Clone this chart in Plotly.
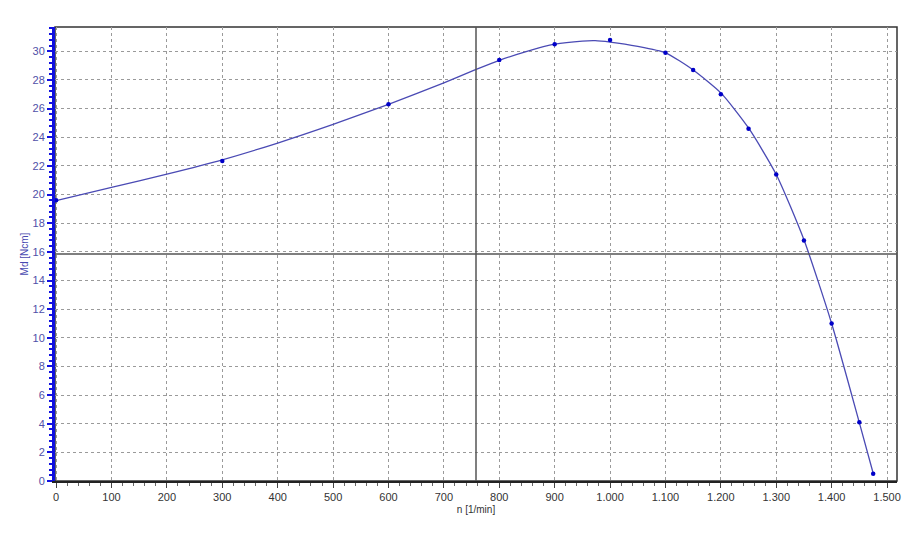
import plotly.graph_objects as go

# measured points
meas_n = [0, 300, 600, 800, 900, 1000, 1100, 1150, 1200, 1250, 1300, 1350, 1400, 1450, 1475]
meas_md = [19.6, 22.35, 26.3, 29.4, 30.5, 30.8, 29.9, 28.7, 27.0, 24.6, 21.4, 16.8, 11.0, 4.1, 0.5]

# fitted curve
curve_n = [0, 100, 200, 300, 400, 500, 600, 700, 756, 800, 850, 900, 950, 973, 1000,
           1050, 1100, 1150, 1200, 1250, 1300, 1350, 1400, 1450, 1475]
curve_md = [19.57, 20.5, 21.43, 22.43, 23.6, 24.9, 26.3, 27.8, 28.7, 29.37, 30.0, 30.5, 30.72,
            30.75, 30.65, 30.35, 29.9, 28.7, 27.1, 24.65, 21.4, 16.84, 11.0, 4.08, 0.54]

# cursor position
cursor_n = 758
cursor_md = 15.85

x_title = "n [1/min]"
y_title = "Md [Ncm]"

fig = go.Figure()
fig.add_trace(go.Scatter(x=curve_n, y=curve_md, mode="lines",
                         line=dict(color="#4a4ab4", width=1.3, shape="spline", smoothing=0.6),
                         hoverinfo="skip", showlegend=False))
fig.add_trace(go.Scatter(x=meas_n, y=meas_md, mode="markers",
                         marker=dict(color="#0000c8", size=4.5, symbol="circle"),
                         showlegend=False))

# frame (top/right)
fig.add_shape(type="rect", xref="paper", yref="paper", x0=0, y0=0, x1=1, y1=1,
              line=dict(color="#333333", width=1.5), layer="below")
# cursor lines
fig.add_shape(type="line", xref="x", yref="paper", x0=cursor_n, x1=cursor_n, y0=0, y1=1,
              line=dict(color="#555555", width=1.5))
fig.add_shape(type="line", xref="paper", yref="y", x0=0, x1=1, y0=cursor_md, y1=cursor_md,
              line=dict(color="#555555", width=1.5))

# page body has an 8px default margin, so the figure is sized to fit
fig.update_layout(
    width=906, height=526,
    margin=dict(l=47, r=17, t=19, b=53, autoexpand=False),
    paper_bgcolor="white", plot_bgcolor="white",
    separators=",.",
    font=dict(family="Liberation Sans, Arial, sans-serif", size=11, color="#333333"),
    xaxis=dict(
        range=[-2, 1518], tick0=0, dtick=100, tickformat=",d", automargin=False,
        showgrid=True, gridcolor="#9a9a9a", griddash="3px,3px", gridwidth=1,
        zeroline=False,
        showline=True, linecolor="#222222", linewidth=2,
        ticks="outside", ticklen=5, tickcolor="#444444", tickwidth=1,
        minor=dict(dtick=20, ticks="outside", ticklen=3, tickcolor="#666666", showgrid=False),
        tickfont=dict(size=11, color="#333333"),
        title=dict(text=x_title, font=dict(size=10, color="#333333"), standoff=4),
    ),
    yaxis=dict(
        range=[0, 31.7], tick0=0, dtick=2, automargin=False,
        showgrid=True, gridcolor="#9a9a9a", griddash="3px,3px", gridwidth=1,
        zeroline=False,
        showline=True, linecolor="#1010e0", linewidth=3,
        ticks="outside", ticklen=5, tickcolor="#1010e0", tickwidth=1.5,
        minor=dict(dtick=0.4, ticks="outside", ticklen=3, tickcolor="#1010e0", showgrid=False),
        tickfont=dict(size=11, color="#5050a8"),
        title=dict(text=y_title, font=dict(size=10, color="#4848b0"), standoff=3),
    ),
)

fig.write_html("out.html")
